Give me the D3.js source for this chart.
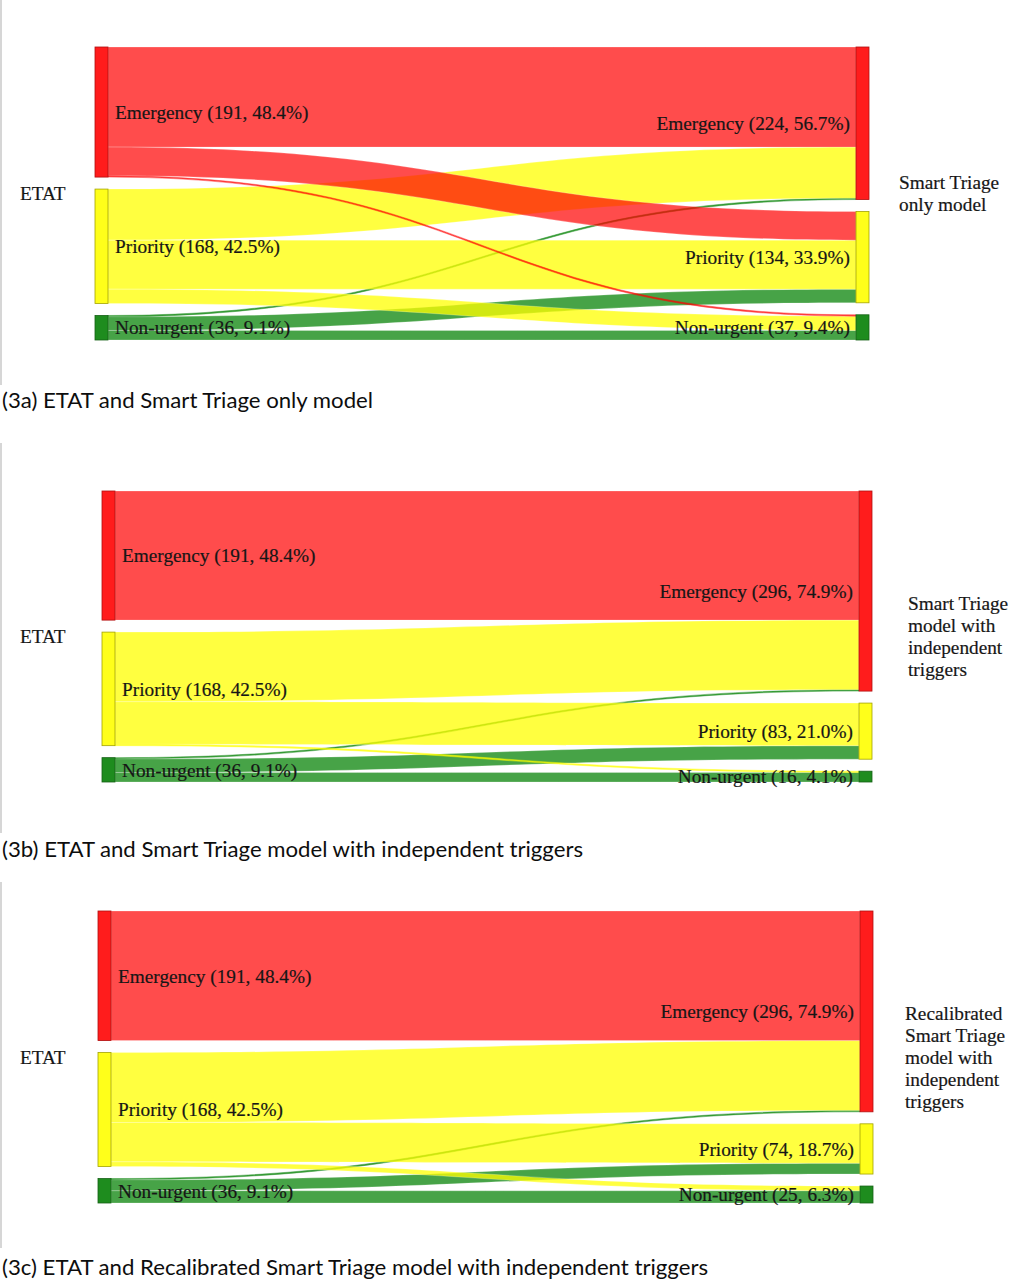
<!DOCTYPE html>
<html lang="en">
<head>
<meta charset="UTF-8">
<title>ETAT vs Smart Triage Sankey diagrams</title>
<script src="https://cdn.jsdelivr.net/npm/d3@7"></script>
<style>
  html, body { margin: 0; padding: 0; background: #fff; }
  svg { display: block; }
  .lbl { font-family: "Liberation Serif", "Times New Roman", serif; font-size: 19.3px; fill: #161616; stroke: #161616; stroke-width: 0.2px; }
  .cap { font-family: Lato, "Open Sans", sans-serif; font-size: 21px; fill: #0d0d0d; }
</style>
</head>
<body>
<svg id="chart" width="1016" height="1280"></svg>
<script>
// categories used on both sides (ETAT on the left, model on the right)
var categories = ["Emergency", "Priority", "Non-urgent"];

// flows[source][target] : ETAT category -> model category (patients)
var flowsA = [[147, 42, 2], [75, 72, 21], [2, 20, 14]];
var flowsB = [[191, 0, 0], [103, 63, 2], [2, 20, 14]];
var flowsC = [[191, 0, 0], [103, 58, 7], [2, 16, 18]];

var leftTitle = "ETAT";
var rightTitles = [
  ["Smart Triage", "only model"],
  ["Smart Triage", "model with", "independent", "triggers"],
  ["Recalibrated", "Smart Triage", "model with", "independent", "triggers"]
];
var captions = [
  "(3a) ETAT and Smart Triage only model",
  "(3b) ETAT and Smart Triage model with independent triggers",
  "(3c) ETAT and Recalibrated Smart Triage model with independent triggers"
];

// layout of each panel (pixels)
var panels = [
  { flows: flowsA, top: 47,  bottom: 340,  leftX: 95,  rightX: 856, titleX: 899, capY: 408,  capW: 371, frame: [0, 385] },
  { flows: flowsB, top: 491, bottom: 782,  leftX: 102, rightX: 859, titleX: 908, capY: 857,  capW: 581, frame: [443, 833] },
  { flows: flowsC, top: 911, bottom: 1203, leftX: 98,  rightX: 860, titleX: 905, capY: 1275, capW: 706, frame: [882, 1248] }
];

var nodeW = 13, gap = 12, lineH = 22;
var nodeFill = ["#ff1c1c", "#ffff1a", "#1e8c1e"];
var nodeStroke = ["#b01010", "#a3a300", "#146014"];
var linkFill = ["rgba(255,0,0,0.7)", "rgba(255,255,0,0.75)", "rgba(0,128,0,0.72)"];

var svg = d3.select("#chart");

function band(x0, x1, y0a, y0b, y1a, y1b) {
  var xm = (x0 + x1) / 2, p = d3.path();
  p.moveTo(x0, y0a);
  p.bezierCurveTo(xm, y0a, xm, y1a, x1, y1a);
  p.lineTo(x1, y1b);
  p.bezierCurveTo(xm, y1b, xm, y0b, x0, y0b);
  p.closePath();
  return p.toString();
}

panels.forEach(function(pn, pi) {
  var flows = pn.flows;
  var srcTot = flows.map(function(r) { return d3.sum(r); });
  var tgtTot = categories.map(function(c, j) { return d3.sum(flows, function(r) { return r[j]; }); });
  var total = d3.sum(srcTot);

  var y = d3.scaleLinear().domain([0, total]).range([0, pn.bottom - pn.top - 2 * gap]);

  function nodes(tots) {
    var acc = pn.top;
    return tots.map(function(v) {
      var n = { y0: acc, y1: acc + y(v), value: v };
      acc = n.y1 + gap;
      return n;
    });
  }
  var left = nodes(srcTot), right = nodes(tgtTot);

  // link slots: at source ordered by target, at target ordered by source
  var links = [];
  var sOff = left.map(function(n) { return n.y0; });
  var tOff = right.map(function(n) { return n.y0; });
  for (var i = 0; i < 3; i++) {
    for (var j = 0; j < 3; j++) {
      var v = flows[i][j];
      if (!v) continue;
      links.push({ s: i, t: j, value: v, y0: sOff[i], y1: tOff[j], w: y(v) });
      sOff[i] += y(v);
    }
  }
  links.slice().sort(function(a, b) { return a.t - b.t || a.s - b.s; }).forEach(function(l) {
    l.y1 = tOff[l.t];
    tOff[l.t] += l.w;
  });

  var g = svg.append("g");

  // screenshot frame edge
  g.append("rect").attr("x", 0).attr("y", pn.frame[0]).attr("width", 2)
    .attr("height", pn.frame[1] - pn.frame[0]).attr("fill", "#d6d6d6");

  // links: draw non-urgent first so red ends on top
  var x0 = pn.leftX + nodeW, x1 = pn.rightX;
  g.append("g").selectAll("path")
    .data(links.slice().sort(function(a, b) { return b.s - a.s; }))
    .join("path")
    .attr("d", function(l) { return band(x0, x1, l.y0, l.y0 + l.w, l.y1, l.y1 + l.w); })
    .attr("fill", function(l) { return linkFill[l.s]; })
    .attr("stroke", function(l) { return l.value < 4 ? linkFill[l.s] : "rgba(255,255,255,0.6)"; })
    .attr("stroke-width", function(l) { return l.value < 4 ? 0.5 : 0.4; });

  // nodes
  [[left, pn.leftX], [right, pn.rightX]].forEach(function(side) {
    g.append("g").selectAll("rect")
      .data(side[0])
      .join("rect")
      .attr("x", side[1])
      .attr("y", function(d) { return d.y0; })
      .attr("width", nodeW)
      .attr("height", function(d) { return d.y1 - d.y0; })
      .attr("fill", function(d, k) { return nodeFill[k]; })
      .attr("stroke", function(d, k) { return nodeStroke[k]; })
      .attr("stroke-width", 0.8);
  });

  function labelText(k, v) {
    return categories[k] + " (" + v + ", " + (v / total * 100).toFixed(1) + "%)";
  }

  g.append("g").selectAll("text")
    .data(left)
    .join("text")
    .attr("class", "lbl")
    .attr("x", pn.leftX + nodeW + 7)
    .attr("y", function(d) { return (d.y0 + d.y1) / 2; })
    .attr("dy", "0.35em")
    .text(function(d, k) { return labelText(k, d.value); });

  g.append("g").selectAll("text")
    .data(right)
    .join("text")
    .attr("class", "lbl")
    .attr("x", pn.rightX - 6)
    .attr("y", function(d) { return (d.y0 + d.y1) / 2; })
    .attr("dy", "0.35em")
    .attr("text-anchor", "end")
    .text(function(d, k) { return labelText(k, d.value); });

  var mid = (pn.top + pn.bottom) / 2;
  g.append("text").attr("class", "lbl")
    .attr("x", 20).attr("y", mid).attr("dy", "0.35em")
    .text(leftTitle);

  var lines = rightTitles[pi];
  var t = g.append("text").attr("class", "lbl");
  lines.forEach(function(s, k) {
    t.append("tspan")
      .attr("x", pn.titleX)
      .attr("y", mid + (k - (lines.length - 1) / 2) * lineH)
      .attr("dy", "0.35em")
      .text(s);
  });

  g.append("text").attr("class", "cap")
    .attr("x", 2).attr("y", pn.capY)
    .attr("textLength", pn.capW)
    .attr("lengthAdjust", "spacingAndGlyphs")
    .text(captions[pi]);
});
</script>
</body>
</html>
